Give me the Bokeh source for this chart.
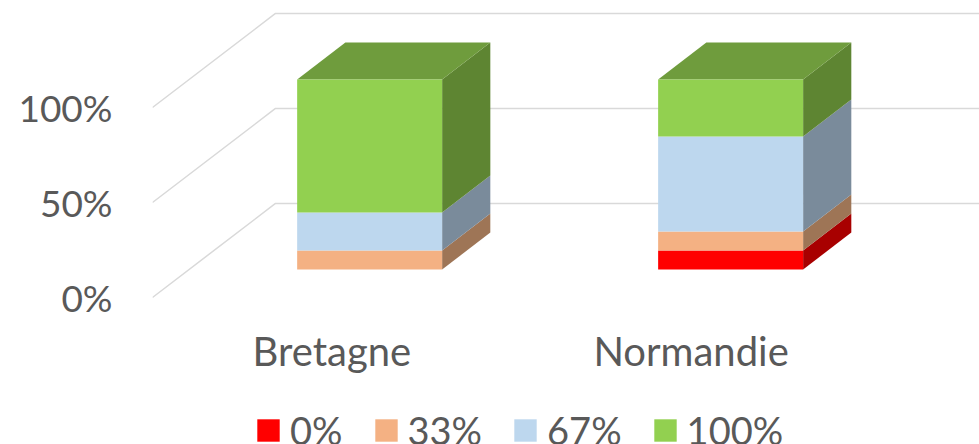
from bokeh.plotting import figure
from bokeh.models import FixedTicker, Legend, LegendItem, Range1d
from bokeh.core.properties import value
from bokeh.embed import file_html
from bokeh.resources import INLINE

regions = ["Bretagne", "Normandie"]
series = ["0%", "33%", "67%", "100%"]
v0 = [0, 10]
v33 = [10, 10]
v67 = [20, 50]
v100 = [70, 30]
ticks = [0, 50, 100]
tick_labels = {0: "0%", 50: "50%", 100: "100%"}
front = ["#ff0000", "#f4b183", "#bdd7ee", "#92d050"]
side = ["#a80000", "#9e7556", "#7a8b9b", "#5e8532"]
top_col = "#6f9c3d"
grid_col = "#d9d9d9"
text_col = "#595959"
font = "Lato"

# oblique projection: depth d in 0..1 shifts x and y
KX, KY = 0.3407, 49.5
D1, D2 = 0.298, 0.69
HALF = 0.2008
XMIN, XMAX = -0.5, 1.791
YMIN, YMAX = -77.37, 156.3
LABEL_Y = -28.4

def proj(x, y, d):
    return x + KX * d, y + KY * d

p = figure(width=979, height=444, output_backend="svg", toolbar_location=None,
           x_range=Range1d(XMIN, XMAX), y_range=Range1d(YMIN, YMAX),
           min_border_left=152, min_border_right=0, min_border_top=0, min_border_bottom=0,
           outline_line_color=None, background_fill_color="white")
p.grid.visible = False
p.xaxis.visible = False

# floor-side gridlines and the back wall
xs, ys = [], []
for t in ticks:
    a = proj(XMIN, t, 0)
    b = proj(XMIN, t, 1)
    xs.append([a[0], b[0], XMAX])
    ys.append([a[1], b[1], b[1]])
p.multi_line(xs, ys, line_color=grid_col, line_width=1.5)

# bars
stack = [v0, v33, v67, v100]
for i, cx in enumerate([0, 1]):
    base = 0
    l, r = cx - HALF, cx + HALF
    for s, vals in enumerate(stack):
        v = vals[i]
        lo, hi = base, base + v
        base = hi
        if v == 0:
            continue
        pts = [proj(r, lo, D1), proj(r, lo, D2), proj(r, hi, D2), proj(r, hi, D1)]
        p.patch([q[0] for q in pts], [q[1] for q in pts], fill_color=side[s], line_color=None)
    pts = [proj(l, base, D1), proj(l, base, D2), proj(r, base, D2), proj(r, base, D1)]
    p.patch([q[0] for q in pts], [q[1] for q in pts], fill_color=top_col, line_color=None)

renderers = []
for s, vals in enumerate(stack):
    fx, fy = [], []
    for i, cx in enumerate([0, 1]):
        lo = sum(stack[k][i] for k in range(s))
        hi = lo + vals[i]
        l, r = cx - HALF, cx + HALF
        pts = [proj(l, lo, D1), proj(r, lo, D1), proj(r, hi, D1), proj(l, hi, D1)]
        fx.append([q[0] for q in pts])
        fy.append([q[1] for q in pts])
    renderers.append(p.patches(fx, fy, fill_color=front[s], line_color=None))

# y axis
ya = p.yaxis[0]
ya.ticker = FixedTicker(ticks=ticks)
ya.major_label_overrides = tick_labels
ya.axis_line_color = None
ya.major_tick_line_color = None
ya.minor_tick_line_color = None
ya.major_label_text_font = font
ya.major_label_text_font_size = "37px"
ya.major_label_text_color = text_col
ya.major_label_standoff = 34

# category labels
p.text(x=[-0.003, 0.992], y=[LABEL_Y, LABEL_Y], text=regions, text_align="center",
       text_baseline="middle", text_font=value(font), text_font_size="40px", text_color=text_col)

legend = Legend(items=[LegendItem(label=n, renderers=[r]) for n, r in zip(series, renderers)],
                orientation="horizontal", location=(102, -9), border_line_color=None,
                background_fill_alpha=0, glyph_width=28, glyph_height=28, label_standoff=8,
                spacing=29, margin=0, padding=0,
                label_text_font=font, label_text_font_size="38px", label_text_color=text_col)
p.add_layout(legend, "center")

open("out.html", "w").write(file_html(p, INLINE))
